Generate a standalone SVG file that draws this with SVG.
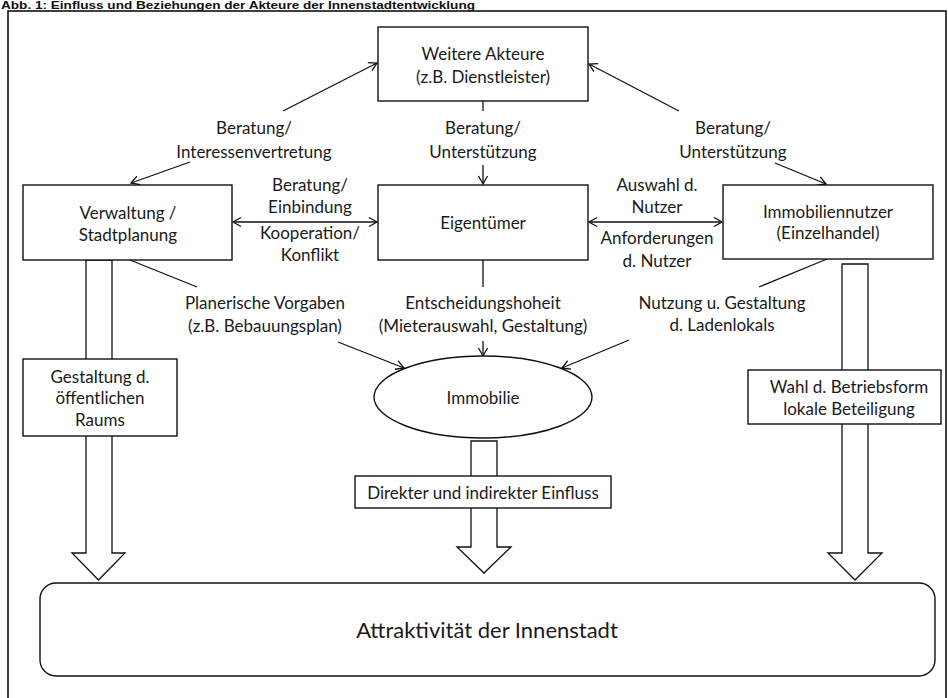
<svg xmlns="http://www.w3.org/2000/svg" width="948" height="698" viewBox="0 0 948 698">
<style>
  .box { fill: #fff; stroke: #111; stroke-width: 1.4; }
  .ln { fill: none; stroke: #111; stroke-width: 1.3; }
  .big { fill: #fff; stroke: #111; stroke-width: 1.3; }
  text { font-family: Lato, "Open Sans", sans-serif; font-size: 17px; fill: #1a1a1a; text-anchor: middle; }
  .title { font-family: "Liberation Sans", Arial, sans-serif; font-weight: bold; font-size: 10.5px; text-anchor: start; fill: #111; }
</style>
<defs>
  <marker id="ah" markerUnits="userSpaceOnUse" markerWidth="12" markerHeight="12" viewBox="0 0 12 12" refX="10" refY="6" orient="auto-start-reverse">
    <path d="M2,1.5 L10,6 L2,10.5" fill="none" stroke="#111" stroke-width="1.3"/>
  </marker>
</defs>
<rect width="948" height="698" fill="#fff"/>
<text class="title" x="1" y="8.5" textLength="474" lengthAdjust="spacingAndGlyphs">Abb. 1: Einfluss und Beziehungen der Akteure der Innenstadtentwicklung</text>
<rect x="8" y="11" width="938" height="720" fill="none" stroke="#111" stroke-width="1.6"/>

<g id="connectors">
  <line class="ln" x1="283" y1="111" x2="377" y2="63" marker-end="url(#ah)"/>
  <line class="ln" x1="190" y1="162" x2="131" y2="183" marker-end="url(#ah)"/>
  <line class="ln" x1="483" y1="101" x2="483" y2="111"/>
  <line class="ln" x1="483" y1="165" x2="483" y2="184" marker-end="url(#ah)"/>
  <line class="ln" x1="679" y1="111" x2="589" y2="64" marker-end="url(#ah)"/>
  <line class="ln" x1="775" y1="163" x2="826" y2="184" marker-end="url(#ah)"/>
  <line class="ln" x1="233" y1="222" x2="377" y2="222" marker-start="url(#ah)" marker-end="url(#ah)"/>
  <line class="ln" x1="589" y1="222" x2="722" y2="222" marker-start="url(#ah)" marker-end="url(#ah)"/>
  <line class="ln" x1="130" y1="260" x2="197" y2="287"/>
  <line class="ln" x1="338" y1="342" x2="404" y2="368" marker-end="url(#ah)"/>
  <line class="ln" x1="483" y1="260" x2="483" y2="287"/>
  <line class="ln" x1="483" y1="341" x2="483" y2="356" marker-end="url(#ah)"/>
  <line class="ln" x1="827" y1="259" x2="759" y2="287"/>
  <line class="ln" x1="629" y1="340" x2="562" y2="368" marker-end="url(#ah)"/>
  <polygon class="big" points="86,260 112,260 112,553 125,553 98.5,580 72,553 86,553"/>
  <polygon class="big" points="471,441 497,441 497,547 511,547 484,573 457,547 471,547"/>
  <polygon class="big" points="842,264 868,264 868,553 882,553 855,580 828,553 842,553"/>
</g>

<g id="weitere-akteure">
  <rect class="box" x="378" y="27" width="210" height="74"/>
  <text x="483" y="60">Weitere Akteure</text>
  <text x="483" y="83">(z.B. Dienstleister)</text>
</g>
<g id="label-left-top">
  <text x="254" y="134">Beratung/</text>
  <text x="254" y="158">Interessenvertretung</text>
</g>
<g id="label-mid-top">
  <text x="483" y="134">Beratung/</text>
  <text x="483" y="158">Unterstützung</text>
</g>
<g id="label-right-top">
  <text x="733" y="134">Beratung/</text>
  <text x="733" y="158">Unterstützung</text>
</g>
<g id="verwaltung">
  <rect class="box" x="23" y="185" width="209" height="75"/>
  <text x="128" y="219">Verwaltung /</text>
  <text x="128" y="241">Stadtplanung</text>
</g>
<g id="eigentuemer">
  <rect class="box" x="378" y="185" width="210" height="75"/>
  <text x="483" y="229">Eigentümer</text>
</g>
<g id="immobiliennutzer">
  <rect class="box" x="723" y="185" width="210" height="74"/>
  <text x="828" y="218">Immobiliennutzer</text>
  <text x="828" y="239">(Einzelhandel)</text>
</g>
<g id="label-verwaltung-eigentuemer">
  <text x="310" y="191">Beratung/</text>
  <text x="310" y="213">Einbindung</text>
  <text x="310" y="239">Kooperation/</text>
  <text x="310" y="261">Konflikt</text>
</g>
<g id="label-eigentuemer-nutzer">
  <text x="657" y="191">Auswahl d.</text>
  <text x="657" y="213">Nutzer</text>
  <text x="657" y="244">Anforderungen</text>
  <text x="657" y="267">d. Nutzer</text>
</g>
<g id="label-planerisch">
  <text x="265" y="309">Planerische Vorgaben</text>
  <text x="265" y="332">(z.B. Bebauungsplan)</text>
</g>
<g id="label-entscheidung">
  <text x="483" y="309">Entscheidungshoheit</text>
  <text x="483" y="332">(Mieterauswahl, Gestaltung)</text>
</g>
<g id="label-nutzung">
  <text x="722" y="309">Nutzung u. Gestaltung</text>
  <text x="722" y="331">d. Ladenlokals</text>
</g>
<g id="immobilie">
  <ellipse class="box" cx="483" cy="397" rx="109" ry="41"/>
  <text x="483" y="404">Immobilie</text>
</g>
<g id="gestaltung">
  <rect class="box" x="23" y="359" width="154" height="77"/>
  <text x="100" y="383">Gestaltung d.</text>
  <text x="100" y="404">öffentlichen</text>
  <text x="100" y="426">Raums</text>
</g>
<g id="wahl">
  <rect class="box" x="748" y="370" width="193" height="54"/>
  <text x="849" y="393">Wahl d. Betriebsform</text>
  <text x="849" y="415">lokale Beteiligung</text>
</g>
<g id="einfluss">
  <rect class="box" x="355" y="476" width="256" height="32"/>
  <text x="483" y="499">Direkter und indirekter Einfluss</text>
</g>
<g id="attraktivitaet">
  <rect class="box" x="40" y="583" width="895" height="93" rx="16" ry="16"/>
  <text x="487" y="638" style="font-size:22px">Attraktivität der Innenstadt</text>
</g>
</svg>
